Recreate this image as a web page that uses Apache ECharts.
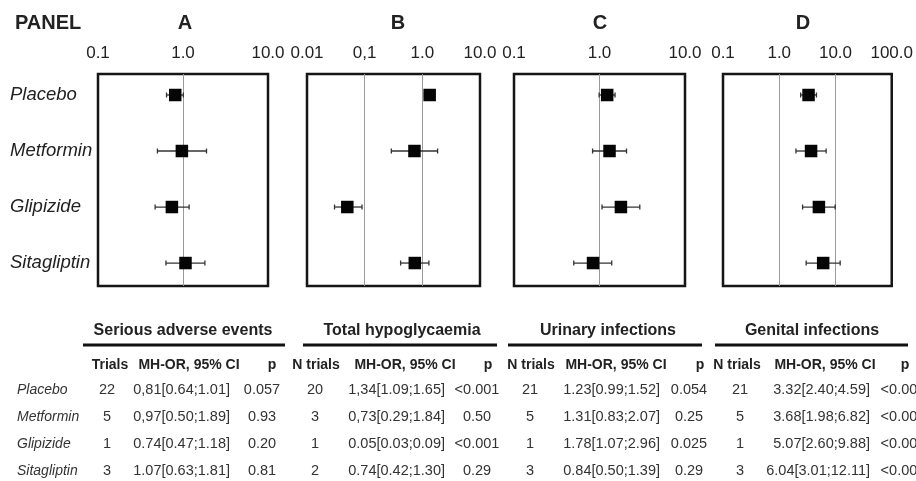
<!DOCTYPE html>
<html>
<head>
<meta charset="utf-8">
<script src="https://cdn.jsdelivr.net/npm/echarts@6/dist/echarts.min.js"></script>
<style>
  html, body { margin: 0; padding: 0; background: #fff; }
  #main { width: 916px; height: 481px; }
</style>
</head>
<body>
<div id="main"></div>
<script>
var drugs = ['Placebo', 'Metformin', 'Glipizide', 'Sitagliptin'];
var panels = ['A', 'B', 'C', 'D'];
var outcomes = ['Serious adverse events', 'Total hypoglycaemia', 'Urinary infections', 'Genital infections'];
var trialHeads = ['Trials', 'N trials', 'N trials', 'N trials'];

// tick labels of each panel's log axis, starting at 10^minExp
var ticksA = ['0.1', '1.0', '10.0'];
var ticksB = ['0.01', '0,1', '1.0', '10.0'];
var ticksC = ['0.1', '1.0', '10.0'];
var ticksD = ['0.1', '1.0', '10.0', '100.0'];
var minExp = [-1, -2, -1, -1];
var refA = [1], refB = [0.1, 1], refC = [1], refD = [1, 10];

var trialsSAE = [22, 5, 1, 3];
var orSAE = ['0,81[0.64;1.01]', '0,97[0.50;1.89]', '0.74[0.47;1.18]', '1.07[0.63;1.81]'];
var pSAE = ['0.057', '0.93', '0.20', '0.81'];

var trialsHypo = [20, 3, 1, 2];
var orHypo = ['1,34[1.09;1.65]', '0,73[0.29;1.84]', '0.05[0.03;0.09]', '0.74[0.42;1.30]'];
var pHypo = ['<0.001', '0.50', '<0.001', '0.29'];

var trialsUri = [21, 5, 1, 3];
var orUri = ['1.23[0.99;1.52]', '1.31[0.83;2.07]', '1.78[1.07;2.96]', '0.84[0.50;1.39]'];
var pUri = ['0.054', '0.25', '0.025', '0.29'];

var trialsGen = [21, 5, 1, 3];
var orGen = ['3.32[2.40;4.59]', '3.68[1.98;6.82]', '5.07[2.60;9.88]', '6.04[3.01;12.11]'];
var pGen = ['<0.001', '<0.001', '<0.001', '<0.001'];

var ticks = [ticksA, ticksB, ticksC, ticksD];
var refs = [refA, refB, refC, refD];
var trials = [trialsSAE, trialsHypo, trialsUri, trialsGen];
var ors = [orSAE, orHypo, orUri, orGen];
var ps = [pSAE, pHypo, pUri, pGen];

// "0,81[0.64;1.01]" -> [0.81, 0.64, 1.01]
function parseOr(s) {
  return s.replace(/,/g, '.').match(/[\d.]+/g).map(Number);
}

var font = 'Liberation Sans, Arial, Helvetica, sans-serif';
var ink = '#222';

var myChart = echarts.init(document.getElementById('main'));

var gridPos = [[98, 170], [307, 173], [514, 171], [723, 169]];
var grid = [], xAxis = [], yAxis = [], series = [];

gridPos.forEach(function (g, i) {
  grid.push({
    left: g[0], width: g[1], top: 74, height: 212,
    show: true, borderColor: '#151515', borderWidth: 2.5
  });
  var lab = ticks[i];
  xAxis.push({
    gridIndex: i, type: 'log', logBase: 10, position: 'top',
    min: Math.pow(10, minExp[i]), max: Math.pow(10, minExp[i] + lab.length - 1),
    axisLine: { show: false }, axisTick: { show: false }, splitLine: { show: false },
    axisLabel: {
      margin: 12, fontSize: 17, color: ink, fontFamily: font,
      formatter: function (v) { return lab[Math.round(Math.log10(v)) - minExp[i]]; }
    }
  });
  yAxis.push({
    gridIndex: i, type: 'value', inverse: true, min: 0.625, max: 4.41,
    axisLine: { show: false }, axisTick: { show: false }, splitLine: { show: false },
    axisLabel: i === 0 ? {
      customValues: [1, 2, 3, 4], align: 'left', margin: 88,
      fontSize: 18.5, fontStyle: 'italic', color: ink, fontFamily: font,
      formatter: function (v) { return drugs[v - 1]; }
    } : { show: false }
  });

  var vals = ors[i].map(parseOr);
  series.push({
    type: 'custom', xAxisIndex: i, yAxisIndex: i, z: 3,
    encode: { x: [0, 1], y: 2 },
    data: vals.map(function (v, k) { return [v[1], v[2], k + 1]; }),
    markLine: {
      silent: true, symbol: 'none', label: { show: false }, z: 1,
      lineStyle: { color: '#9a9a9a', width: 1, type: 'solid' },
      data: refs[i].map(function (r) { return { xAxis: r }; })
    },
    renderItem: function (params, api) {
      var y = api.value(2);
      var a = api.coord([api.value(0), y]);
      var b = api.coord([api.value(1), y]);
      var st = { stroke: '#333', lineWidth: 1.3 };
      return {
        type: 'group',
        children: [
          { type: 'line', shape: { x1: a[0], y1: a[1], x2: b[0], y2: b[1] }, style: st },
          { type: 'line', shape: { x1: a[0], y1: a[1] - 2.5, x2: a[0], y2: a[1] + 2.5 }, style: st },
          { type: 'line', shape: { x1: b[0], y1: b[1] - 2.5, x2: b[0], y2: b[1] + 2.5 }, style: st }
        ]
      };
    }
  });
  series.push({
    type: 'scatter', xAxisIndex: i, yAxisIndex: i, z: 5,
    symbol: 'rect', symbolSize: 12.5,
    itemStyle: { color: '#050505', opacity: 1 },
    data: vals.map(function (v, k) { return [v[0], k + 1]; })
  });
});

// headings and the table under the panels
var graphic = [];
function txt(x, y, s, opt) {
  graphic.push({
    type: 'text', x: x, y: y,
    style: Object.assign({
      text: s, fontFamily: font, fontSize: 14.5, fill: ink,
      textAlign: 'center', textVerticalAlign: 'middle'
    }, opt || {})
  });
}

txt(15, 23, 'PANEL', { fontSize: 20, fontWeight: 'bold', textAlign: 'left' });
var headX = [185, 398, 600, 803];
panels.forEach(function (p, i) { txt(headX[i], 23, p, { fontSize: 20, fontWeight: 'bold' }); });

var rowY = [390, 417, 444, 471];
drugs.forEach(function (d, k) { txt(17, rowY[k], d, { fontStyle: 'italic', textAlign: 'left', fill: '#333', fontSize: 14 }); });

var blocks = [
  { title: 183, x1: 83, x2: 285, trH: 110, trV: 107, orR: 230, mh: 189, pH: 272, pV: 262 },
  { title: 402, x1: 303, x2: 497, trH: 316, trV: 315, orR: 445, mh: 405, pH: 488, pV: 477 },
  { title: 608, x1: 508, x2: 702, trH: 531, trV: 530, orR: 660, mh: 616, pH: 700, pV: 689 },
  { title: 812, x1: 715, x2: 908, trH: 737, trV: 740, orR: 870, mh: 825, pH: 905, pV: 903 }
];
blocks.forEach(function (b, i) {
  txt(b.title, 331, outcomes[i], { fontWeight: 'bold', fontSize: 16 });
  graphic.push({
    type: 'line', shape: { x1: b.x1, y1: 345, x2: b.x2, y2: 345 },
    style: { stroke: '#111', lineWidth: 3 }
  });
  txt(b.trH, 365, trialHeads[i], { fontWeight: 'bold', fontSize: 14 });
  txt(b.mh, 365, 'MH-OR, 95% CI', { fontWeight: 'bold', fontSize: 14 });
  txt(b.pH, 365, 'p', { fontWeight: 'bold', fontSize: 14 });
  drugs.forEach(function (d, k) {
    txt(b.trV, rowY[k], String(trials[i][k]), { fill: '#333' });
    txt(b.orR, rowY[k], ors[i][k], { textAlign: 'right', fill: '#333' });
    txt(b.pV, rowY[k], ps[i][k], { fill: '#333' });
  });
});

var option = {
  animation: false,
  backgroundColor: '#fff',
  grid: grid,
  xAxis: xAxis,
  yAxis: yAxis,
  series: series,
  graphic: graphic
};
myChart.setOption(option);
</script>
</body>
</html>
